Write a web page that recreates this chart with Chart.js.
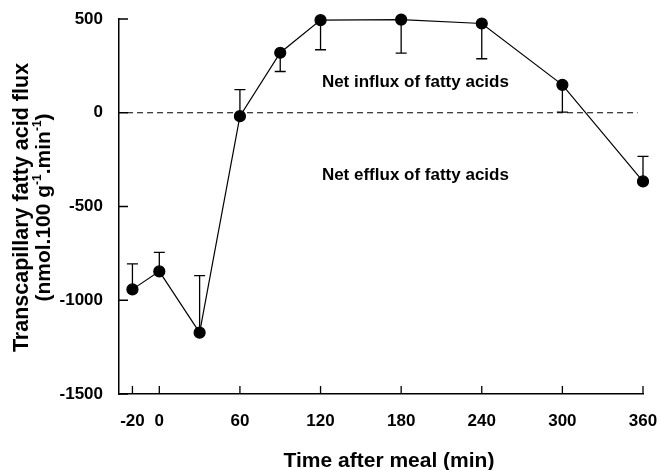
<!DOCTYPE html>
<html>
<head>
<meta charset="utf-8">
<script src="https://cdn.jsdelivr.net/npm/chart.js@4.4.1/dist/chart.umd.min.js"></script>
<style>
  html, body { margin: 0; padding: 0; background: #fff; }
  #wrap { width: 661px; height: 470px; }
</style>
</head>
<body>
<div id="wrap"><canvas id="flux_chart" width="661" height="470"></canvas></div>
<script>
// values
const times = [-20, 0, 30, 60, 90, 120, 180, 240, 300, 360];
const flux = [-942, -846, -1173, -18, 320, 494, 497, 476, 149, -366];
const sem = [136, 101, 304, 141, 100, 158, 179, 188, 146, 133];
const semSide = [1, 1, 1, 1, -1, -1, -1, -1, -1, 1]; // bar drawn up (+1) or down (-1)
const xTicks = [-20, 0, 60, 120, 180, 240, 300, 360];
const yTicks = [-1500, -1000, -500, 0, 500];
const zeroLineX = [-24, 356];
const notes = ["Net influx of fatty acids", "Net efflux of fatty acids"];
const noteX = [121, 121];
const noteY = [140, -361];

const FONT = "'Liberation Sans', Arial, Helvetica, sans-serif";

const points = times.map((t, i) => ({ x: t, y: flux[i] }));

// error bars, inward tick marks, axis titles and the two notes
const extras = {
  id: "extras",
  beforeDatasetsDraw(chart) {
    const ctx = chart.ctx;
    const xs = chart.scales.x, ys = chart.scales.y;
    ctx.save();
    ctx.strokeStyle = "#000";
    ctx.lineWidth = 1.3;
    for (let i = 0; i < times.length; i++) {
      const px = xs.getPixelForValue(times[i]);
      const p0 = ys.getPixelForValue(flux[i]);
      const p1 = ys.getPixelForValue(flux[i] + semSide[i] * sem[i]);
      ctx.beginPath();
      ctx.moveTo(px, p0);
      ctx.lineTo(px, p1);
      ctx.moveTo(px - 5.5, p1);
      ctx.lineTo(px + 5.5, p1);
      ctx.stroke();
    }
    ctx.restore();
  },
  afterDraw(chart) {
    const ctx = chart.ctx;
    const xs = chart.scales.x, ys = chart.scales.y;
    const area = chart.chartArea;
    ctx.save();
    ctx.strokeStyle = "#000";
    ctx.lineWidth = 1.3;
    ctx.beginPath();
    xTicks.forEach(v => {
      const px = xs.getPixelForValue(v);
      ctx.moveTo(px, area.bottom);
      ctx.lineTo(px, area.bottom - 8);
    });
    yTicks.forEach(v => {
      const py = ys.getPixelForValue(v);
      ctx.moveTo(area.left, py);
      ctx.lineTo(area.left + 9, py);
    });
    ctx.stroke();

    ctx.fillStyle = "#000";
    ctx.font = "bold 17px " + FONT;
    ctx.textAlign = "left";
    ctx.textBaseline = "alphabetic";
    notes.forEach((s, i) => {
      ctx.fillText(s, xs.getPixelForValue(noteX[i]), ys.getPixelForValue(noteY[i]));
    });

    // x title
    ctx.font = "bold 21px " + FONT;
    ctx.textAlign = "center";
    ctx.fillText("Time after meal (min)", 389, 467);

    // y title, two lines, rotated
    const cy = (area.top + area.bottom) / 2 + 1;
    ctx.save();
    ctx.translate(28, cy);
    ctx.rotate(-Math.PI / 2);
    ctx.textAlign = "center";
    ctx.font = "bold 21.5px " + FONT;
    ctx.fillText("Transcapillary fatty acid flux", 0, 0);
    ctx.restore();

    const parts = [
      ["(nmol.100 g", false], ["-1", true], [".min", false], ["-1", true], [")", false]
    ];
    const big = "bold 21px " + FONT, small = "bold 12px " + FONT;
    let total = 0;
    parts.forEach(p => { ctx.font = p[1] ? small : big; total += ctx.measureText(p[0]).width; });
    ctx.save();
    ctx.translate(50, cy);
    ctx.rotate(-Math.PI / 2);
    ctx.textAlign = "left";
    let u = -total / 2;
    parts.forEach(p => {
      ctx.font = p[1] ? small : big;
      ctx.fillText(p[0], u, p[1] ? -9 : 0);
      u += ctx.measureText(p[0]).width;
    });
    ctx.restore();
    ctx.restore();
  }
};

new Chart(document.getElementById("flux_chart"), {
  type: "scatter",
  data: {
    datasets: [
      {
        data: points,
        showLine: true,
        borderColor: "#000",
        borderWidth: 1.2,
        backgroundColor: "#000",
        pointRadius: 5.5,
        pointHoverRadius: 5.5,
        tension: 0,
        clip: false
      },
      {
        data: zeroLineX.map(x => ({ x: x, y: 0 })),
        showLine: true,
        borderColor: "#000",
        borderWidth: 1,
        borderDash: [6, 4],
        pointRadius: 0,
        clip: false
      }
    ]
  },
  options: {
    responsive: false,
    animation: false,
    events: [],
    layout: { padding: { left: 0, right: 18, top: 19, bottom: 0 } },
    plugins: { legend: { display: false }, tooltip: { enabled: false } },
    scales: {
      x: {
        type: "linear",
        min: -30,
        max: 360,
        afterBuildTicks: s => { s.ticks = xTicks.map(v => ({ value: v })); },
        afterFit: s => { s.height = 76; s.paddingLeft = 0; s.paddingRight = 0; },
        grid: { display: false },
        border: { display: true, color: "#000", width: 1.5 },
        ticks: {
          color: "#000",
          padding: 9,
          maxRotation: 0,
          autoSkip: false,
          callback: v => String(v),
          font: { family: FONT, size: 17, weight: "bold" }
        }
      },
      y: {
        type: "linear",
        min: -1500,
        max: 500,
        afterBuildTicks: s => { s.ticks = yTicks.map(v => ({ value: v })); },
        afterFit: s => { s.width = 119; s.paddingTop = 0; s.paddingBottom = 0; },
        grid: { display: false },
        border: { display: true, color: "#000", width: 1.5 },
        ticks: {
          color: "#000",
          padding: 8,
          callback: v => String(v),
          font: { family: FONT, size: 17, weight: "bold" }
        }
      }
    }
  },
  plugins: [extras]
});
</script>
</body>
</html>
